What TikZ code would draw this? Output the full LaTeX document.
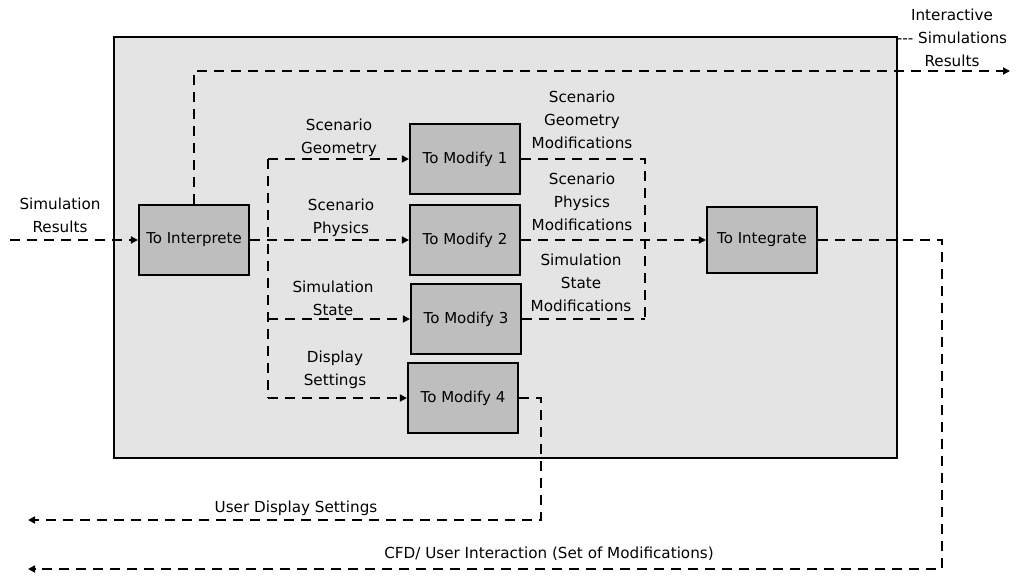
\documentclass[tikz,border=0pt]{standalone}
\usepackage{fontspec}
\setmainfont{DejaVu Sans}
\usetikzlibrary{arrows.meta}
\definecolor{framegray}{RGB}{228,228,228}
\definecolor{boxgray}{RGB}{190,190,190}
\pgfdeclarelayer{framelayer}
\pgfdeclarelayer{linelayer}
\pgfsetlayers{framelayer,linelayer,main}
\begin{document}
\begin{tikzpicture}[x=1pt,y=-1pt,
  lbl/.style={font=\fontsize{15.2}{23}\selectfont, align=center, inner sep=0pt, text=black},
  blk/.style={draw=black, line width=2.2pt, fill=boxgray, minimum width=110pt, minimum height=70pt, inner sep=0pt, font=\fontsize{15}{17}\selectfont},
  flowline/.style={line width=2.2pt, dash pattern=on 10pt off 7pt},
  flow/.style={flowline, -{Triangle[length=7pt,width=7pt]}},
  ]
\useasboundingbox (0,0) rectangle (1016,575);
% outer frame
\begin{pgfonlayer}{framelayer}
\node[draw=black, line width=2.2pt, fill=framegray, minimum width=783pt, minimum height=421pt, inner sep=0pt] (frame) at (505.5,247.5) {};
\end{pgfonlayer}

% blocks
\node[blk] (interp) at (194,240) {To Interprete};
\node[blk] (m1) at (465,159) {To Modify 1};
\node[blk] (m2) at (465,240) {To Modify 2};
\node[blk] (m3) at (466,319) {To Modify 3};
\node[blk] (m4) at (463,398) {To Modify 4};
\node[blk, minimum height=66pt] (integ) at (762,240) {To Integrate};

% free ends and junctions
\coordinate (inS) at (10,240);
\coordinate (outI) at (1010,71);
\coordinate (outU) at (28,520);
\coordinate (outC) at (28,569);
\coordinate (bt) at (268,159);
\coordinate (bb) at (268,398);
\coordinate (b3) at (268,319);
\coordinate (jt) at (645,159);
\coordinate (jb) at (645,319);
\coordinate (cU) at (541,520);
\coordinate (cC) at (942,569);

% connectors
\begin{pgfonlayer}{linelayer}
\draw[flow] (inS) -- (interp.west);
\draw[flow] (interp.north) |- (outI);
\draw[flow] (interp.east) -- (m2.west);
\draw[flowline] (bt) -- (bb);
\draw[flow] (bt) -- (m1.west);
\draw[flow] (b3) -- (m3.west);
\draw[flow] (bb) -- (m4.west);
\draw[flowline] (m1.east) -- (jt) -- (jb);
\draw[flowline] (m3.east) -- (jb);
\draw[flow] (m2.east) -- (integ.west);
\draw[flow] (integ.east) -| (cC) -- (outC);
\draw[flow] (m4.east) -| (cU) -- (outU);
\end{pgfonlayer}

% labels
\node[lbl] (lsr) at (60,215) {Simulation\\Results};
\node[lbl] (lsg) at (339,138) {Scenario\\Geometry};
\node[lbl] (lsp) at (341,218) {Scenario\\Physics};
\node[lbl] (lss) at (333,298) {Simulation\\State};
\node[lbl] (lds) at (335,370) {Display\\Settings};
\node[lbl] (lgm) at (582,120) {Scenario\\Geometry\\Modifications};
\node[lbl] (lpm) at (582,202) {Scenario\\Physics\\Modifications};
\node[lbl] (lsm) at (581,283) {Simulation\\State\\Modifications};
\node[lbl] (lisr) at (952,38) {Interactive\\{-}{-}{-} Simulations\\Results};
\node[lbl] (luds) at (296,508) {User Display Settings};
\node[lbl] (lcfd) at (549,554) {CFD/ User Interaction (Set of Modifications)};
\end{tikzpicture}
\end{document}
